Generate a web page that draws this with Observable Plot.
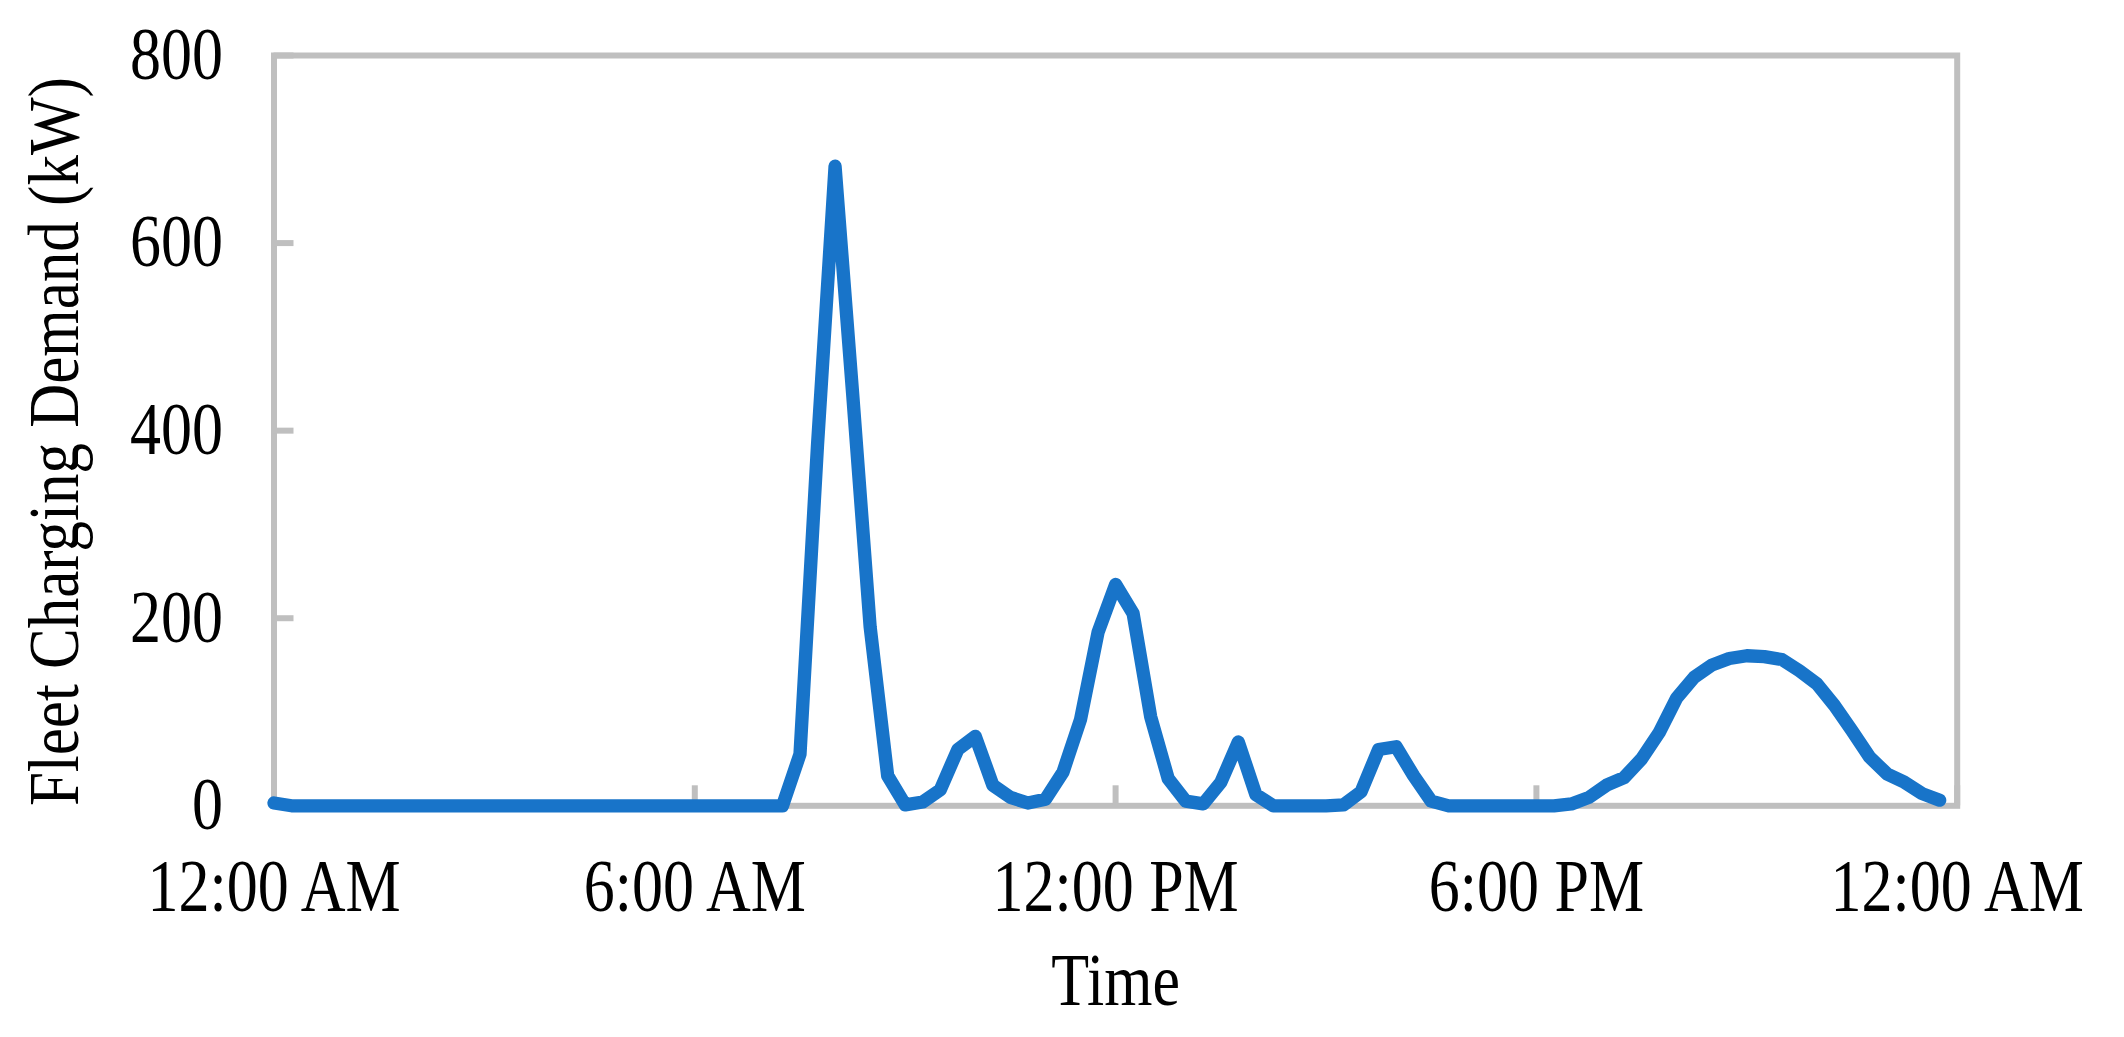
<!DOCTYPE html>
<html>
<head>
<meta charset="utf-8">
<script src="https://cdn.jsdelivr.net/npm/d3@7"></script>
<script src="https://cdn.jsdelivr.net/npm/@observablehq/plot@0.6"></script>
<style>
  html, body { margin: 0; padding: 0; background: #ffffff; }
  #chart { width: 2124px; height: 1037px; }
</style>
</head>
<body>
<div id="chart"></div>
<script>
// Fleet charging demand (kW), one value per 15-minute slot from 12:00 AM to 11:45 PM
const demandKW = [
  3, 0, 0, 0, 0, 0, 0, 0, 0, 0, 0, 0, 0, 0, 0, 0,
  0, 0, 0, 0, 0, 0, 0, 0, 0, 0, 0, 0, 0, 0, 55, 385,
  682, 440, 191, 32, 1, 4, 17, 60, 74, 22, 9, 3, 7, 36, 92, 185,
  236, 205, 95, 29, 5, 2, 25, 68, 12, 0, 0, 0, 0, 1, 15, 60,
  63, 32, 5, 0, 0, 0, 0, 0, 0, 0, 2, 9, 22, 30, 50, 78,
  115, 137, 150, 157, 160, 159, 156, 144, 130, 107, 80, 52, 34, 25, 13, 6
];
const slotHours = 0.25;

const xTickHours = [0, 6, 12, 18, 24];
const xTickLabels = ["12:00 AM", "6:00 AM", "12:00 PM", "6:00 PM", "12:00 AM"];
const yTicks = [0, 200, 400, 600, 800];
const xTitle = "Time";
const yTitle = "Fleet Charging Demand (kW)";

const W = 2124, H = 1037;
const mL = 273.5, mR = 167.3, mT = 55, mB = 231.7;
const plotW = W - mL - mR, plotH = H - mT - mB;
const tickLen = 20;
const gray = "#bfbfbf";
const blue = "#1874c9";
const font = "Liberation Serif, Times New Roman, serif";
const glyphStretch = 1.18; // reference glyphs are taller than they are wide

const data = demandKW.map((v, i) => ({hour: i * slotHours, kw: v}));

const chart = Plot.plot({
  width: W,
  height: H,
  marginLeft: mL,
  marginRight: mR,
  marginTop: mT,
  marginBottom: mB,
  style: {fontFamily: font, fontSize: "62px", background: "#ffffff", color: "#000000"},
  x: {domain: [0, 24], ticks: xTickHours},
  y: {domain: [0, 800], ticks: yTicks},
  marks: [
    Plot.frame({stroke: gray, strokeWidth: 6}),
    Plot.ruleX(xTickHours, {x: d => d, stroke: gray, strokeWidth: 6, insetTop: plotH - tickLen}),
    Plot.ruleY(yTicks, {y: d => d, stroke: gray, strokeWidth: 6, insetRight: plotW - tickLen}),
    Plot.axisX({
      ticks: xTickHours,
      tickSize: 0,
      tickPadding: 53,
      tickFormat: (d) => xTickLabels[xTickHours.indexOf(d)],
      label: null,
      fontSize: 62,
      fontFamily: font,
      fill: "#000000"
    }),
    Plot.axisY({
      ticks: yTicks,
      tickSize: 0,
      tickPadding: 51,
      tickFormat: d => String(d),
      label: null,
      fontSize: 62,
      fontFamily: font,
      fill: "#000000"
    }),
    Plot.lineY(data, {
      x: "hour",
      y: "kw",
      stroke: blue,
      strokeWidth: 13.3,
      strokeLinejoin: "round",
      strokeLinecap: "round"
    }),
    Plot.text([yTitle], {
      frameAnchor: "left",
      textAnchor: "middle",
      lineAnchor: "middle",
      dx: -219.5,
      dy: 11,
      rotate: -90,
      fontSize: 61,
      fontFamily: font,
      fill: "#000000"
    }),
    Plot.text([xTitle], {
      frameAnchor: "bottom",
      textAnchor: "middle",
      lineAnchor: "middle",
      dy: 176,
      fontSize: 62,
      fontFamily: font,
      fill: "#000000"
    })
  ]
});

// stretch every glyph vertically in its own frame, as in the reference rendering
chart.querySelectorAll("text").forEach(el => {
  const t = el.getAttribute("transform");
  if (t) {
    el.setAttribute("transform", t + ` scale(1,${glyphStretch})`);
  } else {
    const x = +el.getAttribute("x") || 0;
    const y = +el.getAttribute("y") || 0;
    el.removeAttribute("x");
    el.removeAttribute("y");
    el.setAttribute("transform", `translate(${x},${y}) scale(1,${glyphStretch})`);
  }
});

document.getElementById("chart").appendChild(chart);
</script>
</body>
</html>
